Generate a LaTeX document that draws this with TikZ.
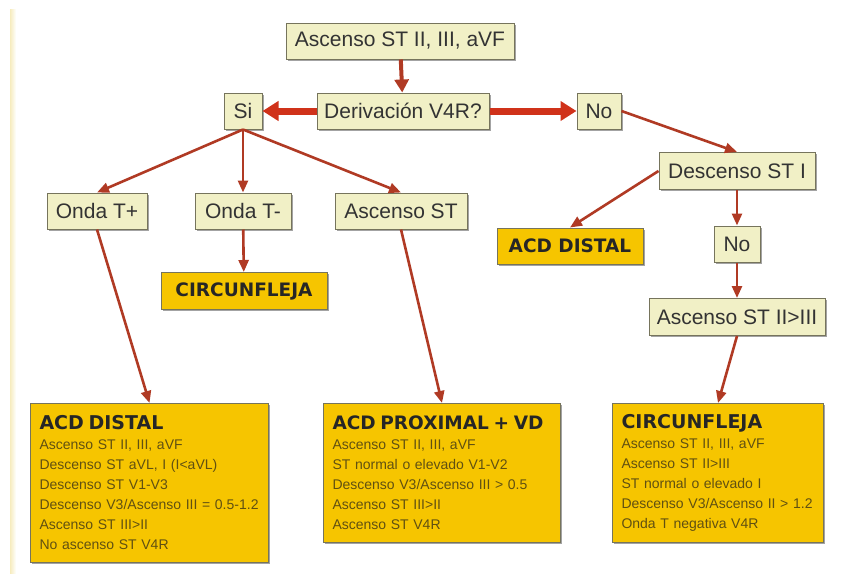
\documentclass[tikz,border=0pt]{standalone}
\usepackage{fontspec}
\setmainfont{Liberation Sans}
\newfontfamily\headfont{DejaVu Sans}
\usetikzlibrary{arrows.meta,shadows}
\definecolor{boxpale}{RGB}{241,240,198}
\definecolor{boxgold}{RGB}{246,197,0}
\definecolor{edgegray}{RGB}{118,116,92}
\definecolor{arrowred}{RGB}{176,58,36}
\definecolor{arrowbright}{RGB}{208,50,26}
\definecolor{bodytext}{RGB}{96,80,18}
\definecolor{stripcream}{RGB}{246,236,190}

\begin{document}
\begin{tikzpicture}[x=1pt,y=-1pt,
  paleBox/.style={draw=edgegray, fill=boxpale, line width=1pt, inner sep=0pt,
    font=\fontsize{21}{24}\selectfont, text=black!80,
    drop shadow={shadow xshift=1.5pt,shadow yshift=-1.5pt,fill=black!60,opacity=0.6}},
  goldBox/.style={paleBox, fill=boxgold, font=\headfont\fontsize{18.5}{22}\selectfont\bfseries, text=black!85},
  resultBox/.style={goldBox, anchor=north west, inner xsep=9pt, inner ysep=0pt, align=left,
    font=\fontsize{14}{20}\selectfont\mdseries, text=bodytext},
  edgeArrow/.style={draw=arrowred, line width=2.6pt, -{Triangle[length=12pt,width=10pt]}},
  wideArrow/.style={draw=arrowbright, line width=7pt, -{Triangle[length=16pt,width=19pt]}}]
\useasboundingbox (0,0) rectangle (846,573);
\fill[white] (0,0) rectangle (846,573);
\shade[left color=stripcream, right color=white] (10,9) rectangle (16,573);

\node[paleBox, minimum width=228, minimum height=36] (top) at (400,41) {Ascenso ST II, III, aVF};
\node[paleBox, minimum width=172, minimum height=36] (deriv) at (403,111) {Derivación V4R?};
\node[paleBox, minimum width=38, minimum height=36] (si) at (243,111) {Si};
\node[paleBox, minimum width=44, minimum height=36] (noA) at (599,111) {No};

\node[paleBox, minimum width=100, minimum height=36] (ondaTp) at (97,211) {Onda T+};
\node[paleBox, minimum width=96, minimum height=36] (ondaTm) at (243,211) {Onda T-};
\node[paleBox, minimum width=132, minimum height=36] (ascST) at (401,211) {Ascenso ST};
\node[goldBox, minimum width=166, minimum height=37] (circA) at (244,291) {CIRCUNFLEJA};

\node[paleBox, minimum width=156, minimum height=37] (descI) at (737,171) {Descenso ST I};
\node[goldBox, minimum width=146, minimum height=36] (acdA) at (570,246) {ACD DISTAL};
\node[paleBox, minimum width=46, minimum height=36] (noB) at (737,244) {No};
\node[paleBox, minimum width=176, minimum height=37] (ascII) at (737,317) {Ascenso ST II>III};

\node[resultBox, text width=220, minimum width=238, minimum height=159] (acdDist) at (30,403)
  {{\headfont\fontsize{19}{24}\selectfont\bfseries\color{black!85}ACD DISTAL\par}
   Ascenso ST II, III, aVF\par
   Descenso ST aVL, I (I<aVL)\par
   Descenso ST V1-V3\par
   Descenso V3/Ascenso III = 0.5-1.2\par
   Ascenso ST III>II\par
   No ascenso ST V4R};
\node[resultBox, text width=219, minimum width=237, minimum height=139] (acdProx) at (323,403)
  {{\headfont\fontsize{18.5}{24}\selectfont\bfseries\color{black!85}ACD PROXIMAL + VD\par}
   Ascenso ST II, III, aVF\par
   ST normal o elevado V1-V2\par
   Descenso V3/Ascenso III > 0.5\par
   Ascenso ST III>II\par
   Ascenso ST V4R};
\node[resultBox, text width=193, minimum width=211, minimum height=139] (circB) at (612,403)
  {{\headfont\fontsize{19}{24}\selectfont\bfseries\color{black!85}CIRCUNFLEJA\par}
   Ascenso ST II, III, aVF\par
   Ascenso ST II>III\par
   ST normal o elevado I\par
   Descenso V3/Ascenso II > 1.2\par
   Onda T negativa V4R};

\draw[edgeArrow, line width=4pt, -{Triangle[length=13pt,width=14pt]}] (top) -- (deriv);
\draw[wideArrow] (deriv) -- (si);
\draw[wideArrow] (deriv) -- (noA);
\foreach \child in {ondaTp,ondaTm,ascST}
  \draw[edgeArrow] (si.south) -- (\child.north);
\draw[edgeArrow] (ondaTm) -- (circA);
\draw[edgeArrow] (noA.east) -- (descI.north);
\draw[edgeArrow] (descI.west) -- (acdA.north);
\draw[edgeArrow] (descI) -- (noB);
\draw[edgeArrow] (noB) -- (ascII);
\draw[edgeArrow] (ondaTp.south) -- (acdDist.north);
\draw[edgeArrow] (ascST.south) -- (acdProx.north);
\draw[edgeArrow] (ascII.south) -- (circB.north);
\end{tikzpicture}
\end{document}
